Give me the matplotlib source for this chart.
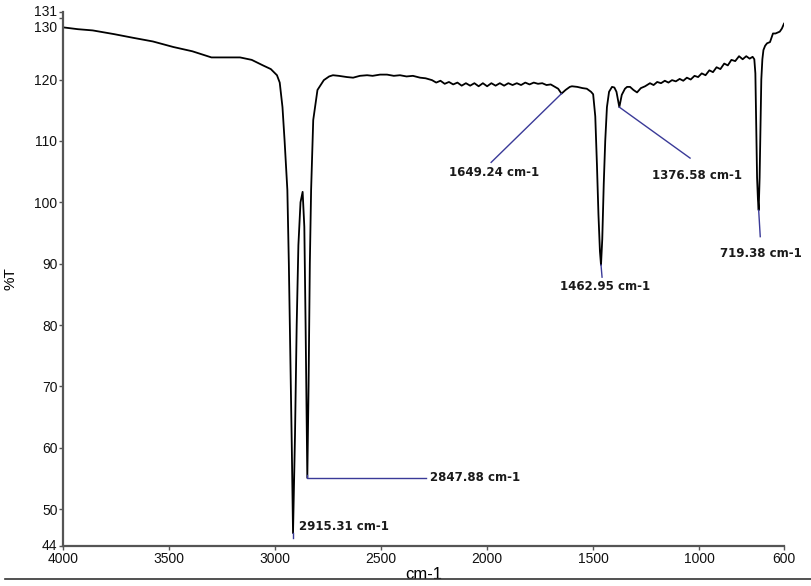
import matplotlib
matplotlib.use("Agg")
import matplotlib.pyplot as plt
import matplotlib.transforms as mtransforms
from matplotlib.lines import Line2D

# FTIR spectrum: wavenumber (cm-1) and transmittance (%T)
wavenumber = [
    4000, 3930, 3860, 3760, 3670, 3576, 3480, 3390, 3300, 3230, 3165, 3110,
    3057, 3020, 2991, 2978, 2965, 2955, 2942, 2935, 2928, 2921, 2915.31,
    2906, 2898, 2890, 2880, 2870, 2862, 2856, 2851, 2847.88, 2842, 2836,
    2830, 2820, 2800, 2770, 2745, 2727, 2700, 2680, 2661, 2632, 2600, 2566,
    2540, 2505, 2472, 2440, 2411, 2380, 2350, 2316, 2290,
    2260, 2240, 2220, 2200, 2180, 2160, 2140, 2120, 2100, 2080, 2060, 2040,
    2020, 2000, 1980, 1960, 1940, 1920, 1900, 1880, 1860, 1840, 1820, 1800,
    1780, 1760, 1740, 1720, 1700, 1680, 1665, 1649.24, 1630, 1610, 1600,
    1575, 1550, 1530, 1510, 1500, 1490, 1482, 1475, 1468, 1462.95, 1457,
    1450, 1443, 1435, 1425, 1411, 1400, 1390, 1376.58, 1365, 1350, 1340,
    1326, 1310, 1293, 1275, 1255, 1232, 1215, 1198, 1180, 1162, 1145, 1128,
    1110, 1092, 1075, 1058, 1040, 1022, 1005, 988, 970, 952, 935, 918, 900,
    882, 865, 848, 830, 812, 795, 778, 762, 748, 740, 735, 731, 727, 723,
    719.38, 715, 711, 707, 702, 697, 689, 680, 666, 652, 640, 633, 620, 610,
    604, 600,
]
transmittance = [
    128.5, 128.2, 128.0, 127.4, 126.8, 126.2, 125.3, 124.6, 123.6, 123.6,
    123.6, 123.2, 122.3, 121.7, 120.7, 119.5, 115.5, 110.0, 102.0, 90.0,
    75.0, 60.0, 46.1, 62.0, 80.0, 93.0, 100.0, 101.7, 96.0, 80.0, 65.0, 55.1,
    70.0, 90.0, 102.0, 113.4, 118.3, 119.9, 120.5, 120.7, 120.6, 120.5,
    120.4, 120.3, 120.6, 120.7, 120.6, 120.8, 120.8, 120.6, 120.7, 120.5,
    120.6, 120.3, 120.2,
    119.9, 119.5, 119.8, 119.3, 119.6, 119.2, 119.5, 119.0, 119.4, 119.0,
    119.4, 118.9, 119.4, 118.9, 119.4, 119.0, 119.4, 119.0, 119.4, 119.1,
    119.4, 119.1, 119.5, 119.2, 119.5, 119.3, 119.4, 119.1, 119.2, 118.8,
    118.5, 117.7, 118.3, 118.8, 118.9, 118.8, 118.6, 118.5, 118.0, 117.6,
    114.0, 106.0, 98.0, 92.0, 89.8, 94.0, 103.0, 110.0, 115.5, 118.0, 118.8,
    118.7, 118.0, 115.5, 117.5, 118.5, 118.8, 118.8, 118.3, 117.9, 118.6,
    118.9, 119.4, 119.1, 119.6, 119.4, 119.8, 119.5, 119.9, 119.7, 120.1,
    119.8, 120.3, 120.0, 120.6, 120.4, 121.0, 120.7, 121.5, 121.2, 122.0,
    121.7, 122.6, 122.3, 123.2, 123.0, 123.8, 123.3, 123.8, 123.4, 123.7,
    123.3, 121.0, 112.0, 104.0, 100.5, 98.7, 104.0, 112.0, 120.0, 123.3,
    124.8, 125.5, 125.9, 126.1, 127.5, 127.5, 127.6, 127.8, 128.3, 128.8,
    129.1,
]

# Peak labels: peak position, leader-line end and text anchor (data units)
peak_wn = [2915.31, 2847.88, 1649.24, 1462.95, 1376.58, 719.38]
peak_t = [46.1, 55.1, 117.7, 89.8, 115.5, 98.7]
leader_end_x = [2915.31, 2288, 1981, 1458, 1043, 712]
leader_end_y = [45.3, 55.1, 106.5, 87.8, 107.2, 94.4]
text_x = [2885, 2270, 1967, 1443, 1010, 708]
text_y = [47.1, 55.1, 104.9, 86.2, 104.3, 91.7]
text_ha = ["left", "left", "center", "center", "center", "center"]

x_ticks = [4000, 3500, 3000, 2500, 2000, 1500, 1000, 600]
y_ticks = [44, 50, 60, 70, 80, 90, 100, 110, 120, 130, 131]

fig = plt.figure(figsize=(8.11, 5.86), dpi=100)
ax = fig.add_axes([63 / 811, 1 - 546 / 586, (784 - 63) / 811, (546 - 12) / 586])

ax.plot(wavenumber, transmittance, color="black", lw=1.3, solid_joinstyle="round")

leader_color = "#3a3a98"
for pw, pt, lx, ly, tx, ty, ha in zip(peak_wn, peak_t, leader_end_x, leader_end_y,
                                      text_x, text_y, text_ha):
    if pw == 2847.88:
        ax.plot([pw, pw, lx], [pt + 0.4, pt, ly], color=leader_color, lw=1.0)
    else:
        ax.plot([pw, lx], [pt, ly], color=leader_color, lw=1.0)
    ax.text(tx, ty, f"{pw:.2f} cm-1", ha=ha, va="center", fontsize=8.5,
            fontweight="bold", color="#1a1a1a", family="DejaVu Sans")

ax.set_xlim(4000, 600)
ax.set_ylim(44, 131)
ax.set_xticks(x_ticks)
ax.set_xticklabels([str(t) for t in x_ticks])
ax.set_yticks(y_ticks)
ax.set_yticklabels([str(t) for t in y_ticks])

for side in ("top", "right"):
    ax.spines[side].set_visible(False)
for side in ("left", "bottom"):
    ax.spines[side].set_color("#555555")
    ax.spines[side].set_linewidth(1.6)

ax.tick_params(axis="both", direction="out", length=3, width=1, color="#555555",
               labelsize=10, pad=1)
for lab in ax.get_xticklabels() + ax.get_yticklabels():
    lab.set_family("Liberation Sans")
    lab.set_color("#111111")

# nudge the crowded end labels apart on the y axis
ylabels = ax.get_yticklabels()
label_shift = {0: 0.02, len(ylabels) - 2: -0.08, len(ylabels) - 1: 0.02}
for idx, dy in label_shift.items():
    lab = ylabels[idx]
    lab.set_transform(lab.get_transform()
                      + mtransforms.ScaledTranslation(0, dy, fig.dpi_scale_trans))

ax.set_xlabel("cm-1", fontsize=12, family="Liberation Sans", labelpad=1)
ax.set_ylabel("%T", fontsize=11, family="Liberation Sans", labelpad=12)

# separator rule along the bottom of the figure
fig.add_artist(Line2D([5 / 811, 1.0], [1 - 579 / 586, 1 - 579 / 586],
                      transform=fig.transFigure, color="#333333", lw=1.2))

fig.savefig("out.png", dpi=100)
